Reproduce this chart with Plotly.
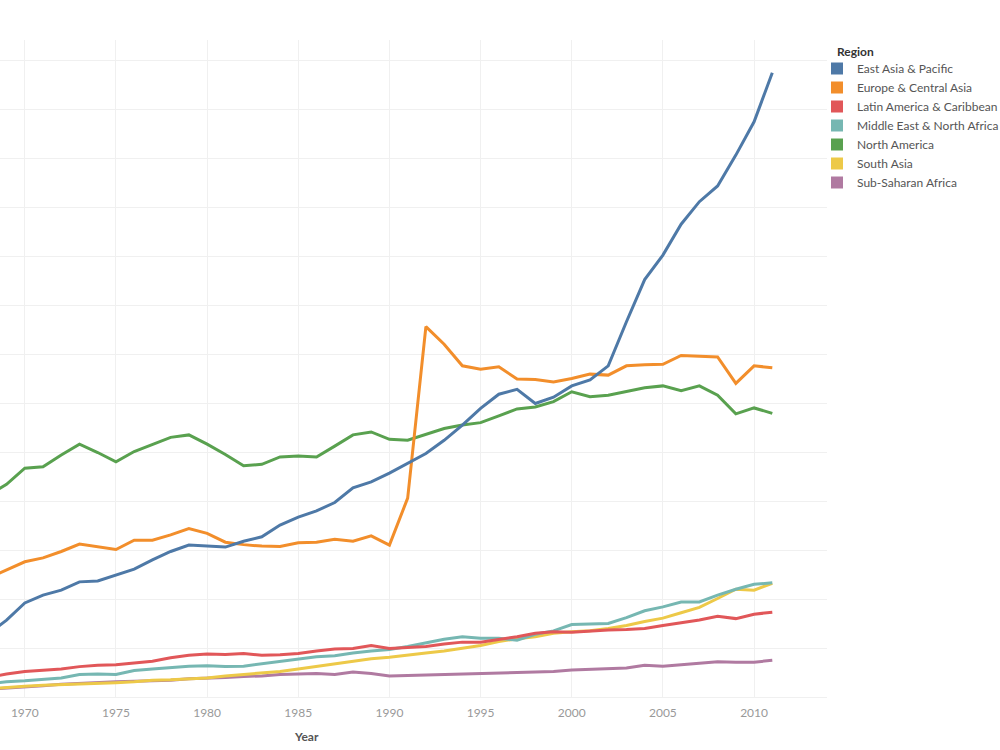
import plotly.graph_objects as go

years = list(range(1968, 2012))

east_asia = [1.29, 1.57, 1.92, 2.08, 2.18, 2.35, 2.37, 2.49, 2.61, 2.80, 2.97, 3.10, 3.08, 3.06, 3.18, 3.27, 3.51,
             3.67, 3.80, 3.97, 4.27, 4.39, 4.57, 4.77, 4.97, 5.24, 5.55, 5.89, 6.18, 6.28, 5.99, 6.12,
             6.35, 6.47, 6.76, 7.66, 8.52, 9.02, 9.65, 10.11, 10.43, 11.06, 11.74, 12.74]
europe = [2.43, 2.59, 2.76, 2.84, 2.97, 3.12, 3.07, 3.01, 3.20, 3.20, 3.31, 3.44, 3.34, 3.16, 3.11, 3.08, 3.07,
          3.15, 3.16, 3.22, 3.18, 3.29, 3.10, 4.06, 7.56, 7.20, 6.76, 6.69, 6.74, 6.49, 6.48, 6.43,
          6.50, 6.59, 6.57, 6.76, 6.78, 6.79, 6.97, 6.96, 6.94, 6.40, 6.76, 6.72]
latin = [0.40, 0.47, 0.52, 0.54, 0.57, 0.62, 0.65, 0.66, 0.69, 0.73, 0.80, 0.85, 0.88, 0.87, 0.89, 0.85, 0.86,
         0.89, 0.94, 0.98, 0.99, 1.05, 0.99, 1.01, 1.03, 1.08, 1.12, 1.12, 1.17, 1.23, 1.30, 1.33,
         1.32, 1.35, 1.37, 1.38, 1.40, 1.46, 1.52, 1.57, 1.65, 1.60, 1.69, 1.73]
mena = [0.27, 0.31, 0.33, 0.36, 0.39, 0.46, 0.47, 0.46, 0.54, 0.57, 0.60, 0.63, 0.64, 0.62, 0.63, 0.68, 0.73,
        0.77, 0.82, 0.84, 0.90, 0.94, 0.97, 1.03, 1.10, 1.18, 1.23, 1.20, 1.20, 1.16, 1.28, 1.35,
        1.48, 1.49, 1.50, 1.62, 1.76, 1.84, 1.94, 1.94, 2.08, 2.20, 2.30, 2.33]
north_america = [4.12, 4.34, 4.67, 4.70, 4.94, 5.16, 4.99, 4.80, 5.01, 5.16, 5.30, 5.35, 5.16, 4.95, 4.72, 4.75, 4.90,
                 4.92, 4.90, 5.12, 5.35, 5.41, 5.26, 5.24, 5.36, 5.48, 5.55, 5.60, 5.74, 5.88, 5.92, 6.03,
                 6.23, 6.13, 6.16, 6.23, 6.31, 6.35, 6.25, 6.35, 6.16, 5.78, 5.90, 5.79]
south_asia = [0.17, 0.20, 0.22, 0.24, 0.25, 0.26, 0.27, 0.29, 0.31, 0.34, 0.35, 0.37, 0.39, 0.43, 0.46, 0.48, 0.52,
              0.57, 0.62, 0.67, 0.73, 0.78, 0.81, 0.86, 0.90, 0.94, 0.99, 1.05, 1.13, 1.19, 1.23, 1.30,
              1.33, 1.35, 1.40, 1.46, 1.54, 1.61, 1.72, 1.83, 2.01, 2.20, 2.18, 2.32]
ssa = [0.16, 0.18, 0.21, 0.23, 0.26, 0.28, 0.30, 0.31, 0.32, 0.33, 0.34, 0.37, 0.38, 0.40, 0.42, 0.43, 0.46,
       0.47, 0.48, 0.46, 0.51, 0.48, 0.43, 0.44, 0.45, 0.46, 0.47, 0.48, 0.50, 0.51, 0.51, 0.52,
       0.55, 0.56, 0.57, 0.59, 0.65, 0.63, 0.66, 0.69, 0.72, 0.71, 0.71, 0.75]

regions = ["East Asia & Pacific", "Europe & Central Asia", "Latin America & Caribbean",
           "Middle East & North Africa", "North America", "South Asia", "Sub-Saharan Africa"]
series = [east_asia, europe, latin, mena, north_america, south_asia, ssa]
colors = ["#4e79a7", "#f28e2b", "#e15759", "#76b7b2", "#59a14f", "#edc948", "#b07aa1"]

FONT = "Lato, 'Open Sans', sans-serif"

fig = go.Figure()
# lines (first legend entry drawn on top)
for name, vals, col in reversed(list(zip(regions, series, colors))):
    fig.add_trace(go.Scatter(x=years, y=vals, mode="lines", name=name,
                             line=dict(color=col, width=3), showlegend=False,
                             hovertemplate="%{x}: %{y}<extra>" + name + "</extra>"))
# legend swatches
for name, col in zip(regions, colors):
    fig.add_trace(go.Scatter(x=[None], y=[None], mode="markers", name=name,
                             marker=dict(symbol="square", size=13, color=col),
                             showlegend=True))

fig.update_layout(
    width=1000, height=750,
    margin=dict(l=0, r=173, t=40, b=53, autoexpand=False),
    plot_bgcolor="white", paper_bgcolor="white",
    font=dict(family=FONT, size=12, color="#666666"),
    showlegend=True,
    legend=dict(
        xref="container", yref="container",
        x=0.817, xanchor="left", y=0.928, yanchor="top",
        font=dict(size=12, color="#555555"),
        tracegroupgap=0, itemsizing="constant",
        bgcolor="rgba(0,0,0,0)",
    ),
    xaxis=dict(
        range=[1968.64, 2014.0],
        tickmode="linear", tick0=1970, dtick=5,
        showgrid=True, gridcolor="#f0f0f0", gridwidth=1,
        zeroline=False, showline=False, ticks="",
        ticklabelstandoff=7,
        tickfont=dict(size=12, color="#999999"),
    ),
    yaxis=dict(
        range=[0, 13.41],
        tickmode="linear", tick0=0, dtick=1,
        showgrid=True, gridcolor="#f0f0f0", gridwidth=1,
        zeroline=True, zerolinecolor="#f0f0f0", zerolinewidth=1,
        showline=False, showticklabels=False, ticks="",
    ),
    annotations=[
        dict(text="<b>Year</b>", x=306 / 827, xref="paper", y=-0.06, yref="paper",
             yanchor="middle", xanchor="center", showarrow=False,
             font=dict(size=12, color="#555555")),
        dict(text="<b>Region</b>", x=835 / 827, xref="paper", y=(697 - 51) / 657, yref="paper",
             xanchor="left", yanchor="middle", showarrow=False,
             font=dict(size=12, color="#333333")),
    ],
)

fig.write_html("out.html")
